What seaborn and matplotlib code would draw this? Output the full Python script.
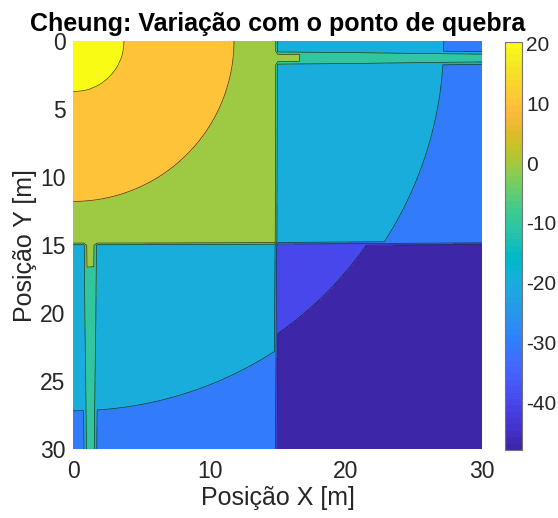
import numpy as np
import matplotlib
matplotlib.use("Agg")
import matplotlib.pyplot as plt
import seaborn as sns
from matplotlib.colors import ListedColormap, Normalize
from matplotlib.cm import ScalarMappable

# ---------------- data: model parameters ----------------
tx_pos = [0.0, 0.0]          # transmitter position [m]
p_ref = 20.3                 # received level at the reference distance [dB]
d_ref = 3.6                  # reference distance [m]
n_before = 2.0               # path-loss exponent before the breakpoint
d_break = 20.8               # breakpoint distance [m]
n_after = 3.85               # path-loss exponent after the breakpoint
wall_x = 15.0                # vertical wall position [m]
wall_y = 15.0                # horizontal wall position [m]
wall_loss = 20.6             # loss per wall [dB]
strip_cells = [1.0, 1.25, 1.5]   # grid lines with reduced wall loss
strip_loss = 7.0             # reduced loss on those grid lines [dB]
grid_step = 0.25
room_size = 30.0
levels = [-40, -30, -20, -10, 0, 10, 20]
cbar_lim = [-48.0, 20.3]
x_ticks = [0, 10, 20, 30]
y_ticks = [0, 5, 10, 15, 20, 25, 30]
cbar_ticks = [-40, -30, -20, -10, 0, 10, 20]

# MATLAB parula (64 entries)
parula_rgb = [
    [0.2422, 0.1504, 0.6603], [0.2504, 0.1650, 0.7076], [0.2578, 0.1818, 0.7511], [0.2647, 0.1978, 0.7952],
    [0.2706, 0.2147, 0.8364], [0.2751, 0.2342, 0.8710], [0.2783, 0.2559, 0.8991], [0.2803, 0.2782, 0.9221],
    [0.2813, 0.3006, 0.9414], [0.2810, 0.3228, 0.9579], [0.2795, 0.3447, 0.9717], [0.2760, 0.3667, 0.9829],
    [0.2699, 0.3892, 0.9906], [0.2602, 0.4123, 0.9952], [0.2440, 0.4358, 0.9988], [0.2206, 0.4603, 0.9973],
    [0.1963, 0.4847, 0.9892], [0.1834, 0.5074, 0.9798], [0.1786, 0.5289, 0.9682], [0.1764, 0.5499, 0.9520],
    [0.1687, 0.5703, 0.9359], [0.1540, 0.5902, 0.9218], [0.1460, 0.6091, 0.9079], [0.1380, 0.6276, 0.8973],
    [0.1248, 0.6459, 0.8883], [0.1113, 0.6635, 0.8763], [0.0952, 0.6798, 0.8598], [0.0689, 0.6948, 0.8394],
    [0.0297, 0.7082, 0.8163], [0.0036, 0.7203, 0.7917], [0.0067, 0.7312, 0.7660], [0.0433, 0.7411, 0.7394],
    [0.0964, 0.7500, 0.7120], [0.1408, 0.7584, 0.6842], [0.1717, 0.7670, 0.6554], [0.1938, 0.7758, 0.6251],
    [0.2161, 0.7843, 0.5923], [0.2470, 0.7918, 0.5567], [0.2906, 0.7973, 0.5188], [0.3406, 0.8008, 0.4789],
    [0.3909, 0.8029, 0.4354], [0.4456, 0.8024, 0.3909], [0.5044, 0.7993, 0.3480], [0.5616, 0.7942, 0.3045],
    [0.6174, 0.7876, 0.2612], [0.6720, 0.7793, 0.2227], [0.7242, 0.7698, 0.1910], [0.7738, 0.7598, 0.1646],
    [0.8203, 0.7498, 0.1535], [0.8634, 0.7406, 0.1596], [0.9035, 0.7330, 0.1774], [0.9393, 0.7288, 0.2100],
    [0.9728, 0.7298, 0.2394], [0.9956, 0.7434, 0.2371], [0.9970, 0.7659, 0.2199], [0.9952, 0.7893, 0.2028],
    [0.9892, 0.8136, 0.1885], [0.9786, 0.8386, 0.1766], [0.9676, 0.8639, 0.1643], [0.9610, 0.8890, 0.1537],
    [0.9597, 0.9135, 0.1423], [0.9628, 0.9373, 0.1265], [0.9691, 0.9606, 0.1064], [0.9769, 0.9839, 0.0805],
]

# ---------------- field ----------------
xs = np.arange(0, room_size + grid_step / 2, grid_step)
X, Y = np.meshgrid(xs, xs)
d = np.maximum(np.hypot(X - tx_pos[0], Y - tx_pos[1]), d_ref)
p_break = p_ref - 10 * n_before * np.log10(d_break / d_ref)
F = np.where(d <= d_break,
             p_ref - 10 * n_before * np.log10(d / d_ref),
             p_break - 10 * n_after * np.log10(d / d_break))
row_strip = np.any([np.isclose(Y, s) for s in strip_cells], axis=0)
col_strip = np.any([np.isclose(X, s) for s in strip_cells], axis=0)
loss_v = np.where(X >= wall_x, np.where(row_strip, strip_loss, wall_loss), 0.0)
loss_h = np.where(Y >= wall_y, np.where(col_strip, strip_loss, wall_loss), 0.0)
Z = F - loss_v - loss_h

# ---------------- plot ----------------
sns.set_theme(style="white")
plt.rcParams["font.family"] = ["Liberation Sans", "DejaVu Sans"]
plt.rcParams["axes.unicode_minus"] = False
FS_TICK = 16.5
FS_LABEL = 18
FS_CBAR = 15
tick_col = (0.15, 0.15, 0.15)

cmap = ListedColormap(parula_rgb, name="parula")
norm = Normalize(vmin=cbar_lim[0], vmax=cbar_lim[1])

fig = plt.figure(figsize=(5.58, 5.18), dpi=100)
ax = fig.add_axes([0.1314, 0.1326, 0.7329, 0.7882])

fill_levels = [-1e3] + levels + [1e3]
fill_colors = [cmap(norm(cbar_lim[0]))] + [cmap(norm(l)) for l in levels]
ax.contourf(X, Y, Z, levels=fill_levels, colors=fill_colors)
ax.contour(X, Y, Z, levels=levels, colors="k", linewidths=0.5, alpha=0.85,
           linestyles="solid", negative_linestyles="solid")

ax.set_xlim(0, room_size)
ax.set_ylim(room_size, 0)
ax.set_xticks(x_ticks)
ax.set_yticks(y_ticks)
ax.tick_params(length=0, labelsize=FS_TICK, colors=tick_col)
ax.tick_params(axis="x", pad=8)
ax.tick_params(axis="y", pad=5.5)
for s in ax.spines.values():
    s.set_visible(False)
ax.set_xlabel("Posição X [m]", fontsize=FS_LABEL, color=tick_col, labelpad=2)
ax.set_ylabel("Posição Y [m]", fontsize=FS_LABEL, color=tick_col, labelpad=2)
ax.set_title("Cheung: Variação com o ponto de quebra", fontsize=FS_LABEL,
             fontweight="bold", color="black", pad=7)

cax = fig.add_axes([0.905, 0.1313, 0.031, 0.7882])
cb = fig.colorbar(ScalarMappable(norm=norm, cmap=cmap), cax=cax, ticks=cbar_ticks)
cb.outline.set_edgecolor((0.45, 0.45, 0.45))
cb.outline.set_linewidth(0.8)
cax.tick_params(direction="in", length=3, width=0.6, color=tick_col, labelsize=FS_CBAR,
                labelcolor=tick_col, pad=3)

fig.savefig("out.png", dpi=100)
